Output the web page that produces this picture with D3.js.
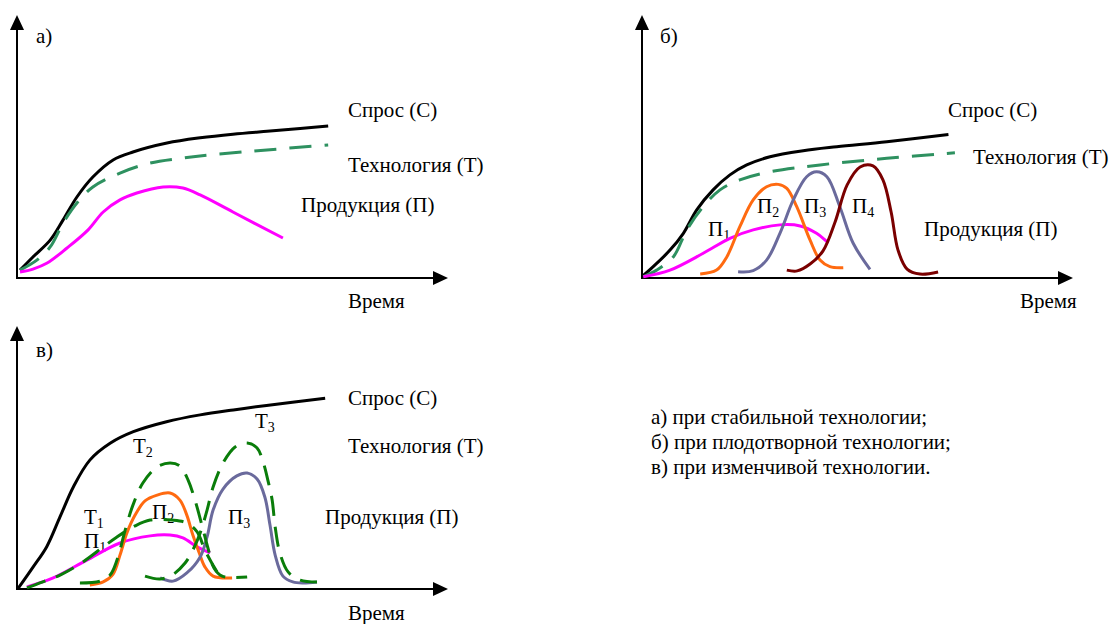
<!DOCTYPE html>
<html>
<head>
<meta charset="utf-8">
<script src="https://cdn.jsdelivr.net/npm/d3@7"></script>
<style>
  html, body { margin: 0; padding: 0; background: #fff; }
  svg { display: block; }
  svg text { font-family: "Liberation Serif", Tinos, "Times New Roman", Times, "Nimbus Roman", "Nimbus Roman No9 L", FreeSerif, "Noto Serif", "DejaVu Serif", serif !important; }
</style>
</head>
<body>
<svg id="chart" width="1113" height="624"></svg>
<script>
// ---------- DATA (time units 0–100 on the horizontal axis, level 0–100 on the vertical axis) ----------
// Panel а) stable technology
const demandA  = [[0.7,3],[3.7,8],[7.7,14.4],[10.7,22.1],[13.9,30.8],[17.6,38.4],[22.3,44.9],[26.9,47.9],[34.8,51.3],[42.5,53.3],[50.1,54.7],[58,55.8],[65.7,56.8],[72.2,57.8]];
const techA    = [[0.7,3],[4.6,6.8],[7.7,11.8],[10.7,20.9],[13.9,28.5],[17.6,34.6],[23.9,39.9],[30.9,43.7],[38.5,45.6],[46.4,47.1],[58,48.7],[72.2,50.6]];
const prodA    = [[0.7,2.3],[3.7,3.4],[7,5.7],[11.6,11.4],[16.5,18.3],[20,25.1],[23.9,29.7],[27.8,32.3],[33.9,34.6],[38.5,34.2],[42.5,31.6],[50.1,25.1],[61.7,15.2]];

// Panel б) fruitful technology
const demandB  = [[0,0.5],[2.6,4.3],[6.5,10.6],[9.6,17],[12.7,25.9],[16.5,33.5],[20.4,39.2],[24.3,43],[29.7,46.1],[37.4,48.4],[45.2,49.9],[56.8,51.8],[71.1,54.6]];
const techB    = [[0.3,0.5],[3.4,3],[7.3,8.1],[10.4,18.3],[14.2,27.1],[18.1,33.5],[22.7,37.3],[29.7,40.4],[41.3,43],[56.8,45.5],[72.6,47.6]];
const prodB1   = [[0.3,0.5],[6.5,3],[14.2,9.4],[20.4,15.1],[25.8,18.3],[32,20.2],[36.7,19.8],[40.5,17],[43.2,13.4]];
const prodB2   = [[13.5,1.5],[17.3,3],[19.7,8.1],[22.7,19.5],[25.8,29.7],[28.9,34.7],[31.6,35.6],[33.6,34.1],[35.9,27.1],[39,14.4],[41.3,6.8],[43.6,4.3],[46.7,3.9]];
const prodB3   = [[22.3,2.4],[25.8,2.8],[28.9,6.8],[32,17],[35.1,29.7],[38.2,38.5],[40.5,40.4],[42.9,38.5],[45.9,27.1],[49,13.2],[52.9,3.3]];
const prodB4   = [[33.6,3],[36,2.7],[39,5.3],[42,10.3],[44.8,21.3],[47.6,35.4],[50.6,42.2],[53.6,42.6],[55.9,37.3],[57.8,25.1],[59.4,10.6],[61.5,3.4],[64.5,1.5],[68.7,2.3]];

// Panel в) changeable technology
const demandC  = [[0.3,0.3],[3.8,8.5],[6.9,16.1],[10,27.5],[13.1,38.9],[16.9,49],[21.6,55.4],[27,59.8],[34.7,63.6],[42.5,66.2],[50.2,68.1],[57.9,69.8],[71.5,72.5]];
const techC1   = [[2.3,0.4],[5.3,2.3],[10,5.3],[15.3,10.3],[20,16],[23.2,19.8],[27.4,24],[30.9,26.2],[36,26.2],[39.4,25.1],[41.8,21.7],[43.6,14.8],[45.2,9.9],[47.1,4.6]];
const techC2   = [[14.6,2.3],[19.3,3],[21.6,5.3],[23.2,11],[25.1,22.4],[26.9,31.9],[29.2,40.3],[32.5,46.4],[35.5,47.9],[37.8,46.8],[39.7,41.4],[41.3,33.8],[42.9,24.3],[44.3,15.6],[45.7,8],[47.6,4.9],[53.4,4.6]];
const techC3   = [[29.7,4.9],[33.2,3.8],[36,5.3],[39,9.9],[40.8,14.8],[42.5,21.3],[44.1,30],[45.5,38.8],[47.8,47.9],[50.6,54],[53.4,55.5],[55.7,53.6],[57.1,48.3],[58.2,41.4],[59.2,33.8],[59.9,23.6],[61,13.7],[62.9,6.5],[65.7,3.4],[69.6,2.7]];
const prodC1   = [[2.3,0.8],[8.4,4.2],[16.2,11],[23.9,17.5],[30.9,20.2],[35.5,20.5],[38.5,19.4],[41.8,16],[44.8,13.7]];
const prodC2   = [[16.9,1.5],[20,2.7],[22.3,5.7],[23.9,12.9],[25.5,21.3],[27.4,28.1],[29.7,33.5],[32.5,35.7],[35.5,36.5],[37.8,33.8],[39.4,28.1],[40.8,20.5],[42.2,14.1],[43.6,8.4],[45.5,4.9],[49.9,4.2]];
const prodC3   = [[33.2,4.2],[36.2,3],[39.4,6.1],[42.5,12.2],[44.1,19.8],[45.5,30],[47.8,38],[51,43],[53.4,44.1],[55.7,41.8],[57.5,35],[58.7,24.3],[59.9,12.9],[61.7,4.9],[64,2.7],[66.4,2.3],[69.6,2.7]];

// Text
const panelTags   = ["а)", "б)", "в)"];
const seriesNames = ["Спрос (С)", "Технология (Т)", "Продукция (П)"];
const axisName    = "Время";
const legendLines = ["а) при стабильной технологии;", "б) при плодотворной технологии;", "в) при изменчивой технологии."];

// ---------- DRAWING ----------
const svg = d3.select("#chart");
const W = 431, H = 263;
const FONT = 21, SUB = 14;
const FAMILY = '"Liberation Serif", Tinos, "Times New Roman", Times, FreeSerif, "Noto Serif", "DejaVu Serif", serif';

const col = {
  demand: "#000000",
  techAB: "#2e9160",
  techC: "#0a7d0a",
  p1: "#ff00ff",
  p2: "#ff6a10",
  p3: "#6a6a9c",
  p4: "#7a0000"
};

function label(g, x, y, main, sub) {
  const t = g.append("text").attr("x", x).attr("y", y)
    .style("font-family", FAMILY).style("font-size", FONT + "px").attr("fill", "#000").text(main);
  if (sub) t.append("tspan").style("font-size", SUB + "px").attr("dy", 4).text(sub);
  return t;
}

function makePanel(ox, oy) {
  const g = svg.append("g");
  const x = d3.scaleLinear().domain([0, 100]).range([ox, ox + W]);
  const y = d3.scaleLinear().domain([0, 100]).range([oy, oy - H]);
  g.append("line").attr("x1", x(0)).attr("y1", y(0)).attr("x2", x(0)).attr("y2", y(100) + 14)
    .attr("stroke", "#000").attr("stroke-width", 2);
  g.append("line").attr("x1", x(0) - 1).attr("y1", y(0)).attr("x2", x(100) - 14).attr("y2", y(0))
    .attr("stroke", "#000").attr("stroke-width", 2);
  g.append("path").attr("d", `M${x(0)},${y(100)} L${x(0) - 7},${y(100) + 15} L${x(0) + 7},${y(100) + 15} Z`).attr("fill", "#000");
  g.append("path").attr("d", `M${x(100)},${y(0)} L${x(100) - 15},${y(0) - 7} L${x(100) - 15},${y(0) + 7} Z`).attr("fill", "#000");
  const line = d3.line().x(d => x(d[0])).y(d => y(d[1])).curve(d3.curveCatmullRom.alpha(0.5));
  return { g, x, y, ox, oy, line };
}

function curve(p, data, color, dash) {
  const path = p.g.append("path").attr("d", p.line(data)).attr("fill", "none")
    .attr("stroke", color).attr("stroke-width", 3).attr("stroke-linecap", "butt").attr("stroke-linejoin", "round");
  if (dash) path.attr("stroke-dasharray", dash);
}

// Panel а
const pa = makePanel(17, 278);
label(pa.g, pa.ox + 19, pa.oy - 235, panelTags[0]);
label(pa.g, pa.ox + 331, pa.oy - 161, seriesNames[0]);
label(pa.g, pa.ox + 331, pa.oy - 106, seriesNames[1]);
label(pa.g, pa.ox + 284, pa.oy - 66, seriesNames[2]);
label(pa.g, pa.ox + 331, pa.oy + 30, axisName);
curve(pa, demandA, col.demand);
curve(pa, techA, col.techAB, "22,13");
curve(pa, prodA, col.p1);

// Panel б
const pb = makePanel(642, 278);
label(pb.g, pb.ox + 18, pb.oy - 235, panelTags[1]);
label(pb.g, pb.ox + 306, pb.oy - 161, seriesNames[0]);
label(pb.g, pb.ox + 331, pb.oy - 114, seriesNames[1]);
label(pb.g, pb.ox + 282, pb.oy - 42, seriesNames[2]);
label(pb.g, pb.ox + 378, pb.oy + 30, axisName);
label(pb.g, pb.ox + 66, pb.oy - 42, "П", "1");
label(pb.g, pb.ox + 115, pb.oy - 65, "П", "2");
label(pb.g, pb.ox + 162, pb.oy - 65, "П", "3");
label(pb.g, pb.ox + 210, pb.oy - 65, "П", "4");
curve(pb, demandB, col.demand);
curve(pb, techB, col.techAB, "22,13");
curve(pb, prodB1, col.p1);
curve(pb, prodB2, col.p2);
curve(pb, prodB3, col.p3);
curve(pb, prodB4, col.p4);

// Panel в
const pc = makePanel(17, 589);
label(pc.g, pc.ox + 19, pc.oy - 232, panelTags[2]);
label(pc.g, pc.ox + 331, pc.oy - 184, seriesNames[0]);
label(pc.g, pc.ox + 331, pc.oy - 136, seriesNames[1]);
label(pc.g, pc.ox + 308, pc.oy - 65, seriesNames[2]);
label(pc.g, pc.ox + 331, pc.oy + 31, axisName);
label(pc.g, pc.ox + 238, pc.oy - 161, "Т", "3");
label(pc.g, pc.ox + 116, pc.oy - 136, "Т", "2");
label(pc.g, pc.ox + 67, pc.oy - 65, "Т", "1");
label(pc.g, pc.ox + 67, pc.oy - 41, "П", "1");
label(pc.g, pc.ox + 135, pc.oy - 70, "П", "2");
label(pc.g, pc.ox + 211, pc.oy - 65, "П", "3");
curve(pc, demandC, col.demand);
curve(pc, prodC1, col.p1);
curve(pc, prodC2, col.p2);
curve(pc, prodC3, col.p3);
curve(pc, techC1, col.techC, "20,11");
curve(pc, techC2, col.techC, "20,11");
curve(pc, techC3, col.techC, "20,11");

// Legend
const lg = svg.append("g");
legendLines.forEach((s, i) => {
  lg.append("text").attr("x", 651).attr("y", 424 + i * 25)
    .style("font-family", FAMILY).style("font-size", FONT + "px").attr("fill", "#000").text(s);
});
</script>
</body>
</html>
